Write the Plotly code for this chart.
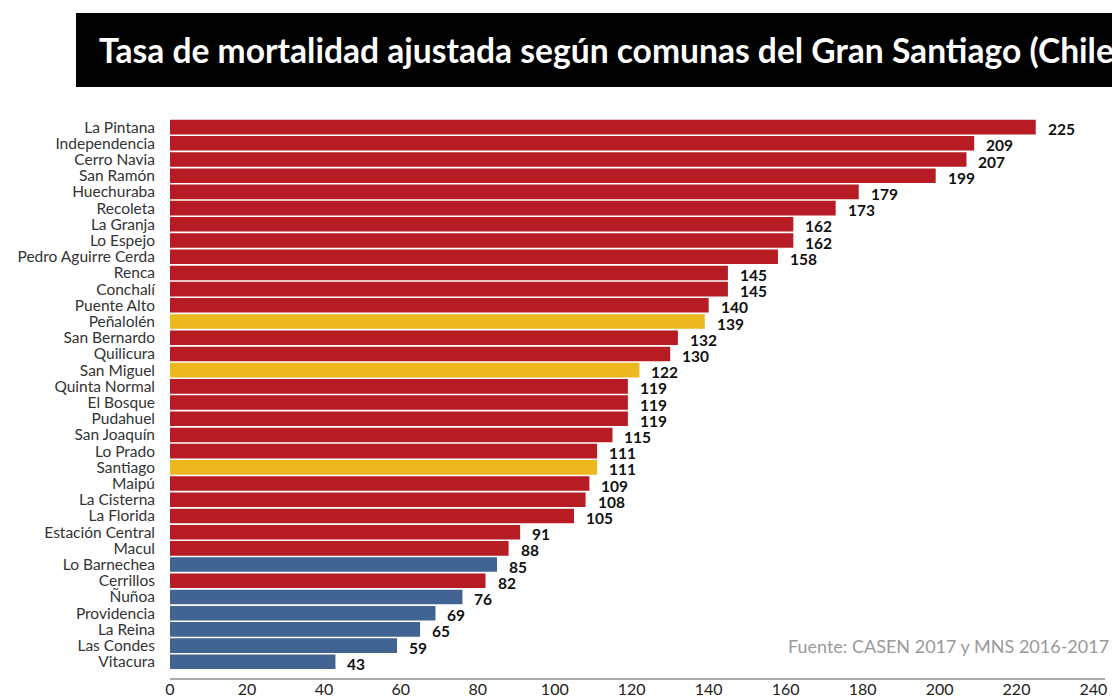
import plotly.graph_objects as go

comunas = ["La Pintana", "Independencia", "Cerro Navia", "San Ramón", "Huechuraba", "Recoleta",
           "La Granja", "Lo Espejo", "Pedro Aguirre Cerda", "Renca", "Conchalí", "Puente Alto",
           "Peñalolén", "San Bernardo", "Quilicura", "San Miguel", "Quinta Normal", "El Bosque",
           "Pudahuel", "San Joaquín", "Lo Prado", "Santiago", "Maipú", "La Cisterna", "La Florida",
           "Estación Central", "Macul", "Lo Barnechea", "Cerrillos", "Ñuñoa", "Providencia",
           "La Reina", "Las Condes", "Vitacura"]
tasas = [225, 209, 207, 199, 179, 173, 162, 162, 158, 145, 145, 140, 139, 132, 130, 122, 119, 119,
         119, 115, 111, 111, 109, 108, 105, 91, 88, 85, 82, 76, 69, 65, 59, 43]
grupos = ["r", "r", "r", "r", "r", "r", "r", "r", "r", "r", "r", "r", "y", "r", "r", "y", "r", "r",
          "r", "r", "r", "y", "r", "r", "r", "r", "r", "b", "r", "b", "b", "b", "b", "b"]
x_ticks = [0, 20, 40, 60, 80, 100, 120, 140, 160, 180, 200, 220, 240]

color_map = {"r": "#B71C24", "y": "#EDB81E", "b": "#426492"}
colors = [color_map[g] for g in grupos]

W, H = 1112, 697
L, R, T, B = 170, 7, 119, 19
pw, ph = W - L - R, H - T - B

def px(x):
    return (x - L) / pw

def py(y):
    return (H - B - y) / ph

fig = go.Figure()
fig.add_trace(go.Bar(
    x=tasas, y=comunas, orientation="h",
    marker=dict(color=colors, line=dict(width=0)),
    width=0.9, hoverinfo="x+y",
))

for c, v in zip(comunas, tasas):
    fig.add_annotation(x=v, y=c, text=f"<b>{v}</b>", showarrow=False, xanchor="left",
                       yanchor="middle", xshift=10, yshift=-2,
                       font=dict(family="Lato", size=15.5, color="#111"))

# title box
fig.add_shape(type="rect", xref="paper", yref="paper", x0=px(76), x1=px(1130), y0=py(87), y1=py(13),
              fillcolor="#000000", line=dict(width=0), layer="above")
fig.add_annotation(xref="paper", yref="paper", x=px(97), y=py(50), xanchor="left", yanchor="middle",
                   text="<b>Tasa de mortalidad ajustada según comunas del Gran Santiago (Chile)</b>",
                   showarrow=False, font=dict(family="Lato", size=33.6, color="#ffffff"))
fig.add_annotation(xref="paper", yref="paper", x=px(1111), y=py(646), xanchor="right", yanchor="middle",
                   text="Fuente: CASEN 2017 y MNS 2016-2017", showarrow=False,
                   font=dict(family="Lato", size=18, color="#9a9a9a"))

fig.update_layout(
    width=W, height=H,
    margin=dict(l=L, r=R, t=T, b=B, autoexpand=False),
    plot_bgcolor="#ffffff", paper_bgcolor="#ffffff",
    showlegend=False,
    xaxis=dict(range=[0, 243], tickvals=x_ticks, showgrid=False, zeroline=False,
               showline=True, linecolor="#aaaaaa", linewidth=2, ticks="",
               ticklabelstandoff=-4, automargin=False,
               tickfont=dict(family="Lato", size=16, color="#222")),
    yaxis=dict(categoryorder="array", categoryarray=comunas, range=[34.0, -0.5],
               tickmode="array", tickvals=comunas,
               showgrid=False, zeroline=False, showline=False, ticks="",
               ticklabelstandoff=14, automargin=False,
               tickfont=dict(family="Lato", size=15.5, color="#333")),
)

fig.write_html("out.html", config={"displayModeBar": False},
               post_script="document.body.style.margin='0';document.body.style.overflow='hidden';")
